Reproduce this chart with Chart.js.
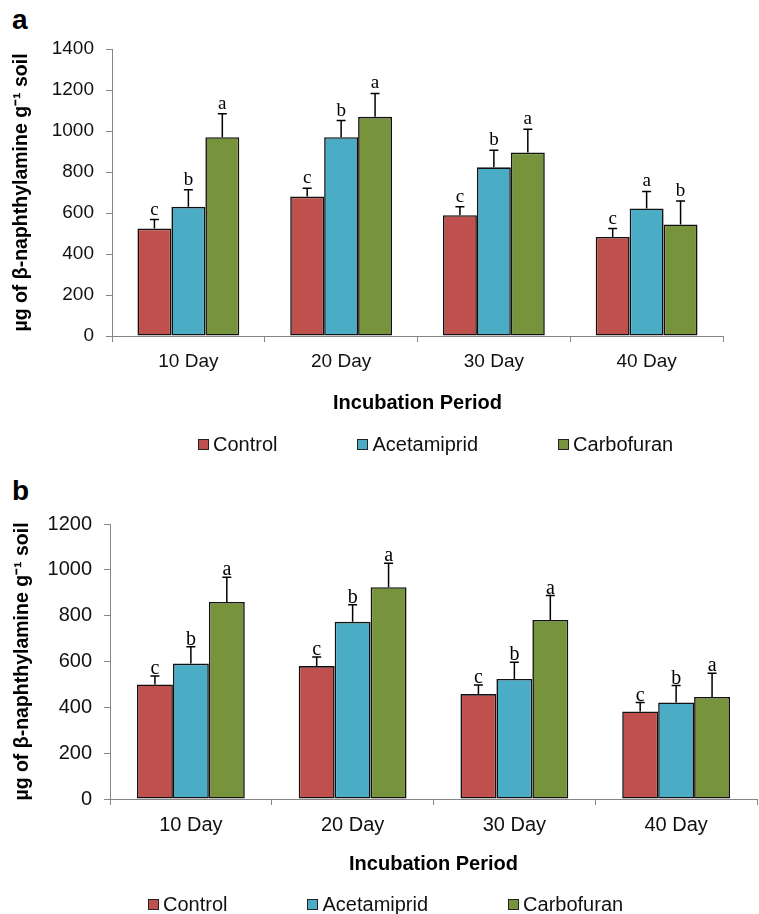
<!DOCTYPE html>
<html>
<head>
<meta charset="utf-8">
<script src="https://cdn.jsdelivr.net/npm/chart.js@4.4.0/dist/chart.umd.min.js"></script>
<style>
  body { margin: 0; background: #fff; width: 759px; height: 914px; position: relative; overflow: hidden; font-family: "Liberation Sans", Arial, sans-serif; }
  .panel { position: absolute; left: 0; }
  .tag { position: absolute; left: 12px; font: bold 28px/1 "Liberation Sans", Arial, sans-serif; color: #000; }
  .legend { position: absolute; display: flex; gap: 80px; font-size: 20px; line-height: 20px; color: #111; }
  .legend .item { display: flex; align-items: center; }
  .legend i { display: inline-block; width: 11px; height: 11px; box-sizing: border-box; border: 1.5px solid #222; margin-right: 4px; }
</style>
</head>
<body>
<div class="tag" style="top:6px">a</div>
<canvas id="chartA" class="panel" style="top:0" width="759" height="460"></canvas>
<div class="legend" id="legendA" style="left:198px; top:434px"></div>

<div class="tag" style="top:477px">b</div>
<canvas id="chartB" class="panel" style="top:460px" width="759" height="454"></canvas>
<div class="legend" id="legendB" style="left:148px; top:894px"></div>

<script>
const categories = ['10 Day', '20 Day', '30 Day', '40 Day'];
const seriesNames = ['Control', 'Acetamiprid', 'Carbofuran'];
const colors = ['#C0504D', '#4BACC6', '#77933C'];
const yTitle = 'µg of β-naphthylamine g⁻¹ soil';
const xTitle = 'Incubation Period';

// panel a
const controlA = [524, 680, 589, 483];
const acetamipridA = [630, 970, 823, 622];
const carbofuranA = [970, 1069, 895, 544];
const controlErrA = [44, 41, 42, 41];
const acetamipridErrA = [83, 81, 83, 83];
const carbofuranErrA = [114, 114, 114, 114];
const controlLettersA = ['c', 'c', 'c', 'c'];
const acetamipridLettersA = ['b', 'b', 'b', 'a'];
const carbofuranLettersA = ['a', 'a', 'a', 'b'];
const yMaxA = 1400;

// panel b
const controlB = [500, 580, 458, 382];
const acetamipridB = [591, 773, 524, 421];
const carbofuranB = [860, 924, 781, 445];
const controlErrB = [37, 40, 39, 39];
const acetamipridErrB = [73, 75, 73, 74];
const carbofuranErrB = [108, 105, 107, 104];
const controlLettersB = ['c', 'c', 'c', 'c'];
const acetamipridLettersB = ['b', 'b', 'b', 'b'];
const carbofuranLettersB = ['a', 'a', 'a', 'a'];
const yMaxB = 1200;

const yStep = 200;
const sans = '"Liberation Sans", Arial, sans-serif';
const axisGray = '#868686';

// error bars (upper only) + significance letters
const errorBars = {
    id: 'errorBars',
    afterDatasetsDraw(chart, args, opts) {
        const ctx = chart.ctx;
        const y = chart.scales.y;
        ctx.save();
        chart.data.datasets.forEach((ds, i) => {
            chart.getDatasetMeta(i).data.forEach((bar, j) => {
                const top = y.getPixelForValue(ds.data[j] + ds.errors[j]);
                ctx.strokeStyle = '#000';
                ctx.lineWidth = 1.5;
                ctx.beginPath();
                ctx.moveTo(bar.x, bar.y);
                ctx.lineTo(bar.x, top);
                ctx.moveTo(bar.x - 4.5, top);
                ctx.lineTo(bar.x + 4.5, top);
                ctx.stroke();
                ctx.fillStyle = '#000';
                ctx.font = opts.font;
                ctx.textAlign = 'center';
                ctx.textBaseline = 'alphabetic';
                ctx.fillText(ds.letters[j], bar.x, top - opts.gap);
            });
        });
        ctx.restore();
    }
};

function buildChart(id, p) {
    return new Chart(document.getElementById(id), {
        type: 'bar',
        data: {
            labels: categories,
            datasets: p.series.map((vals, i) => ({
                label: seriesNames[i],
                data: vals,
                errors: p.errors[i],
                letters: p.letters[i],
                backgroundColor: colors[i],
                borderColor: '#111',
                borderWidth: 1.6,
                borderSkipped: false,
                categoryPercentage: 2 / 3,
                barPercentage: 1
            }))
        },
        options: {
            responsive: false,
            animation: false,
            layout: { padding: p.padding },
            plugins: {
                legend: { display: false },
                tooltip: { enabled: false },
                errorBars: { font: p.letterSize + 'px "Liberation Serif", "Times New Roman", serif', gap: p.letterGap }
            },
            scales: {
                x: {
                    grid: { offset: true, drawOnChartArea: false, tickLength: 6, color: axisGray },
                    border: { color: axisGray },
                    ticks: { color: '#111', font: { family: sans, size: p.tickSize }, padding: 8 },
                    title: { display: true, text: xTitle, color: '#000', font: { family: sans, size: 20, weight: 'bold', lineHeight: 1.2 }, padding: { top: 0, bottom: 0 } },
                    afterFit: s => { s.height = p.xHeight; }
                },
                y: {
                    min: 0,
                    max: p.yMax,
                    grid: { drawOnChartArea: false, tickLength: 6, color: axisGray },
                    border: { color: axisGray },
                    ticks: { stepSize: yStep, color: '#111', font: { family: sans, size: p.tickSize }, padding: 12, callback: v => String(v) },
                    title: { display: true, text: yTitle, color: '#000', font: { family: sans, size: 19.5, weight: 'bold', lineHeight: 1.2 }, padding: { top: p.yTitlePad, bottom: 0 } },
                    afterFit: s => { s.width = p.yWidth; }
                }
            }
        },
        plugins: [errorBars]
    });
}

function buildLegend(id) {
    const el = document.getElementById(id);
    seriesNames.forEach((name, i) => {
        const item = document.createElement('span');
        item.className = 'item';
        item.innerHTML = `<i style="background:${colors[i]}"></i>${name}`;
        el.appendChild(item);
    });
}

buildChart('chartA', {
    series: [controlA, acetamipridA, carbofuranA],
    errors: [controlErrA, acetamipridErrA, carbofuranErrA],
    letters: [controlLettersA, acetamipridLettersA, carbofuranLettersA],
    yMax: yMaxA,
    padding: { top: 49, right: 36, bottom: 45, left: 0 },
    yWidth: 112,
    xHeight: 79,
    tickSize: 19,
    letterSize: 19,
    letterGap: 5,
    yTitlePad: 10
});

buildChart('chartB', {
    series: [controlB, acetamipridB, carbofuranB],
    errors: [controlErrB, acetamipridErrB, carbofuranErrB],
    letters: [controlLettersB, acetamipridLettersB, carbofuranLettersB],
    yMax: yMaxB,
    padding: { top: 64, right: 2, bottom: 38, left: 0 },
    yWidth: 110,
    xHeight: 77,
    tickSize: 20,
    letterSize: 20,
    letterGap: 2,
    yTitlePad: 11
});

buildLegend('legendA');
buildLegend('legendB');
</script>
</body>
</html>
